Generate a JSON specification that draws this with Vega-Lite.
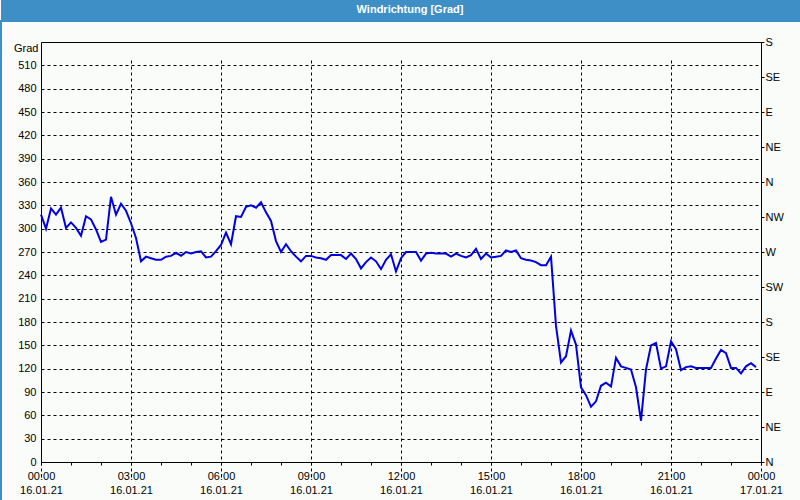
{
  "$schema": "https://vega.github.io/schema/vega-lite/v6.json",
  "padding": 0,
  "background": "#fafcfa",
  "spacing": 0,
  "config": {
    "font": "Liberation Sans",
    "concat": {"spacing": 0},
    "axis": {"labelFont": "Liberation Sans", "labelFontSize": 11, "labelColor": "black", "tickColor": "black", "domainColor": "black", "titleFont": "Liberation Sans"}
  },
  "vconcat": [
    {
      "width": 800,
      "height": 20,
      "view": {"fill": "#3d8fc6", "stroke": null},
      "data": {"values": [{"title": "Windrichtung [Grad]"}]},
      "mark": {"type": "text", "color": "white", "fontWeight": "bold", "fontSize": 11, "font": "Liberation Sans", "dx": 9},
      "encoding": {"text": {"field": "title"}}
    },
    {
      "width": 800,
      "height": 480,
      "view": {"stroke": "#3d8fc6", "strokeWidth": 2},
      "data": {"values": [
        {"time": "2021-01-16T00:00", "dir": 318}, {"time": "2021-01-16T00:10", "dir": 300}, {"time": "2021-01-16T00:20", "dir": 326}, {"time": "2021-01-16T00:30", "dir": 318},
        {"time": "2021-01-16T00:40", "dir": 327}, {"time": "2021-01-16T00:50", "dir": 301}, {"time": "2021-01-16T01:00", "dir": 308}, {"time": "2021-01-16T01:10", "dir": 301},
        {"time": "2021-01-16T01:20", "dir": 291}, {"time": "2021-01-16T01:30", "dir": 316}, {"time": "2021-01-16T01:40", "dir": 312}, {"time": "2021-01-16T01:50", "dir": 299},
        {"time": "2021-01-16T02:00", "dir": 283}, {"time": "2021-01-16T02:10", "dir": 286}, {"time": "2021-01-16T02:20", "dir": 341}, {"time": "2021-01-16T02:30", "dir": 318},
        {"time": "2021-01-16T02:40", "dir": 332}, {"time": "2021-01-16T02:50", "dir": 323}, {"time": "2021-01-16T03:00", "dir": 307}, {"time": "2021-01-16T03:10", "dir": 288},
        {"time": "2021-01-16T03:20", "dir": 258}, {"time": "2021-01-16T03:30", "dir": 264}, {"time": "2021-01-16T03:40", "dir": 262}, {"time": "2021-01-16T03:50", "dir": 260},
        {"time": "2021-01-16T04:00", "dir": 260}, {"time": "2021-01-16T04:10", "dir": 264}, {"time": "2021-01-16T04:20", "dir": 265}, {"time": "2021-01-16T04:30", "dir": 269},
        {"time": "2021-01-16T04:40", "dir": 265}, {"time": "2021-01-16T04:50", "dir": 270}, {"time": "2021-01-16T05:00", "dir": 268}, {"time": "2021-01-16T05:10", "dir": 270},
        {"time": "2021-01-16T05:20", "dir": 271}, {"time": "2021-01-16T05:30", "dir": 263}, {"time": "2021-01-16T05:40", "dir": 264}, {"time": "2021-01-16T05:50", "dir": 271},
        {"time": "2021-01-16T06:00", "dir": 279}, {"time": "2021-01-16T06:10", "dir": 295}, {"time": "2021-01-16T06:20", "dir": 280}, {"time": "2021-01-16T06:30", "dir": 316},
        {"time": "2021-01-16T06:40", "dir": 315}, {"time": "2021-01-16T06:50", "dir": 328}, {"time": "2021-01-16T07:00", "dir": 330}, {"time": "2021-01-16T07:10", "dir": 327},
        {"time": "2021-01-16T07:20", "dir": 334}, {"time": "2021-01-16T07:30", "dir": 321}, {"time": "2021-01-16T07:40", "dir": 310}, {"time": "2021-01-16T07:50", "dir": 284},
        {"time": "2021-01-16T08:00", "dir": 270}, {"time": "2021-01-16T08:10", "dir": 280}, {"time": "2021-01-16T08:20", "dir": 271}, {"time": "2021-01-16T08:30", "dir": 264},
        {"time": "2021-01-16T08:40", "dir": 258}, {"time": "2021-01-16T08:50", "dir": 265}, {"time": "2021-01-16T09:00", "dir": 265}, {"time": "2021-01-16T09:10", "dir": 263},
        {"time": "2021-01-16T09:20", "dir": 262}, {"time": "2021-01-16T09:30", "dir": 260}, {"time": "2021-01-16T09:40", "dir": 266}, {"time": "2021-01-16T09:50", "dir": 266},
        {"time": "2021-01-16T10:00", "dir": 266}, {"time": "2021-01-16T10:10", "dir": 261}, {"time": "2021-01-16T10:20", "dir": 268}, {"time": "2021-01-16T10:30", "dir": 261},
        {"time": "2021-01-16T10:40", "dir": 249}, {"time": "2021-01-16T10:50", "dir": 257}, {"time": "2021-01-16T11:00", "dir": 263}, {"time": "2021-01-16T11:10", "dir": 258},
        {"time": "2021-01-16T11:20", "dir": 248}, {"time": "2021-01-16T11:30", "dir": 260}, {"time": "2021-01-16T11:40", "dir": 267}, {"time": "2021-01-16T11:50", "dir": 245},
        {"time": "2021-01-16T12:00", "dir": 262}, {"time": "2021-01-16T12:10", "dir": 270}, {"time": "2021-01-16T12:20", "dir": 270}, {"time": "2021-01-16T12:30", "dir": 270},
        {"time": "2021-01-16T12:40", "dir": 259}, {"time": "2021-01-16T12:50", "dir": 268}, {"time": "2021-01-16T13:00", "dir": 269}, {"time": "2021-01-16T13:10", "dir": 268},
        {"time": "2021-01-16T13:20", "dir": 268}, {"time": "2021-01-16T13:30", "dir": 268}, {"time": "2021-01-16T13:40", "dir": 264}, {"time": "2021-01-16T13:50", "dir": 268},
        {"time": "2021-01-16T14:00", "dir": 265}, {"time": "2021-01-16T14:10", "dir": 263}, {"time": "2021-01-16T14:20", "dir": 266}, {"time": "2021-01-16T14:30", "dir": 274},
        {"time": "2021-01-16T14:40", "dir": 261}, {"time": "2021-01-16T14:50", "dir": 268}, {"time": "2021-01-16T15:00", "dir": 263}, {"time": "2021-01-16T15:10", "dir": 264},
        {"time": "2021-01-16T15:20", "dir": 265}, {"time": "2021-01-16T15:30", "dir": 272}, {"time": "2021-01-16T15:40", "dir": 270}, {"time": "2021-01-16T15:50", "dir": 272},
        {"time": "2021-01-16T16:00", "dir": 262}, {"time": "2021-01-16T16:10", "dir": 260}, {"time": "2021-01-16T16:20", "dir": 259}, {"time": "2021-01-16T16:30", "dir": 257},
        {"time": "2021-01-16T16:40", "dir": 253}, {"time": "2021-01-16T16:50", "dir": 253}, {"time": "2021-01-16T17:00", "dir": 264}, {"time": "2021-01-16T17:10", "dir": 175},
        {"time": "2021-01-16T17:20", "dir": 128}, {"time": "2021-01-16T17:30", "dir": 136}, {"time": "2021-01-16T17:40", "dir": 169}, {"time": "2021-01-16T17:50", "dir": 151},
        {"time": "2021-01-16T18:00", "dir": 96}, {"time": "2021-01-16T18:10", "dir": 86}, {"time": "2021-01-16T18:20", "dir": 71}, {"time": "2021-01-16T18:30", "dir": 78},
        {"time": "2021-01-16T18:40", "dir": 98}, {"time": "2021-01-16T18:50", "dir": 102}, {"time": "2021-01-16T19:00", "dir": 97}, {"time": "2021-01-16T19:10", "dir": 134},
        {"time": "2021-01-16T19:20", "dir": 123}, {"time": "2021-01-16T19:30", "dir": 121}, {"time": "2021-01-16T19:40", "dir": 119}, {"time": "2021-01-16T19:50", "dir": 96},
        {"time": "2021-01-16T20:00", "dir": 53}, {"time": "2021-01-16T20:10", "dir": 119}, {"time": "2021-01-16T20:20", "dir": 150}, {"time": "2021-01-16T20:30", "dir": 153},
        {"time": "2021-01-16T20:40", "dir": 120}, {"time": "2021-01-16T20:50", "dir": 123}, {"time": "2021-01-16T21:00", "dir": 155}, {"time": "2021-01-16T21:10", "dir": 145},
        {"time": "2021-01-16T21:20", "dir": 118}, {"time": "2021-01-16T21:30", "dir": 122}, {"time": "2021-01-16T21:40", "dir": 123}, {"time": "2021-01-16T21:50", "dir": 121},
        {"time": "2021-01-16T22:00", "dir": 121}, {"time": "2021-01-16T22:10", "dir": 121}, {"time": "2021-01-16T22:20", "dir": 121}, {"time": "2021-01-16T22:30", "dir": 133},
        {"time": "2021-01-16T22:40", "dir": 144}, {"time": "2021-01-16T22:50", "dir": 140}, {"time": "2021-01-16T23:00", "dir": 121}, {"time": "2021-01-16T23:10", "dir": 121},
        {"time": "2021-01-16T23:20", "dir": 114}, {"time": "2021-01-16T23:30", "dir": 123}, {"time": "2021-01-16T23:40", "dir": 127}, {"time": "2021-01-16T23:50", "dir": 122}
      ]},
      "layer": [
        {
          "mark": {"type": "line", "strokeOpacity": 0},
          "encoding": {
            "x": {
              "field": "time", "type": "temporal",
              "scale": {"domain": [{"year": 2021, "month": 1, "date": 16, "hours": 0}, {"year": 2021, "month": 1, "date": 17, "hours": 0}], "range": [40, 760]},
              "axis": {"orient": "top", "offset": -21, "labels": false, "ticks": false, "grid": false, "domain": true, "title": null}
            },
            "y": {
              "field": "dir", "type": "quantitative",
              "scale": {"domain": [0, 540], "range": [441, 21], "nice": false, "zero": false},
              "axis": {
                "orient": "right", "offset": -40,
                "values": [0, 45, 90, 135, 180, 225, 270, 315, 360, 405, 450, 495, 540],
                "labelExpr": "datum.value % 360 === 0 ? 'N' : datum.value % 360 === 45 ? 'NE' : datum.value % 360 === 90 ? 'E' : datum.value % 360 === 135 ? 'SE' : datum.value % 360 === 180 ? 'S' : datum.value % 360 === 225 ? 'SW' : datum.value % 360 === 270 ? 'W' : 'NW'",
                "tickSize": 3, "labelPadding": 1, "labelOverlap": false, "labelFlush": false,
                "grid": false, "title": null
              }
            }
          }
        },
        {
          "mark": {"type": "line", "strokeOpacity": 0},
          "encoding": {
            "x": {
              "field": "time", "type": "temporal",
              "scale": {"domain": [{"year": 2021, "month": 1, "date": 16, "hours": 0}, {"year": 2021, "month": 1, "date": 17, "hours": 0}], "range": [40, 760]},
              "axis": {"orient": "bottom", "offset": -39, "tickCount": 24, "labels": false, "ticks": true, "tickSize": 3, "grid": false, "domain": true, "title": null}
            },
            "y": {"field": "dir", "type": "quantitative", "axis": null}
          }
        },
        {
          "mark": {"type": "line", "strokeOpacity": 0},
          "encoding": {
            "x": {
              "field": "time", "type": "temporal",
              "scale": {"domain": [{"year": 2021, "month": 1, "date": 16, "hours": 0}, {"year": 2021, "month": 1, "date": 17, "hours": 0}], "range": [40, 760]},
              "axis": {"orient": "bottom", "offset": -39, "tickCount": 8, "format": "%d.%m.%y", "labels": true, "ticks": false, "grid": false, "domain": false,
                       "labelPadding": 22, "labelFlush": false, "labelOverlap": false, "title": null}
            },
            "y": {"field": "dir", "type": "quantitative", "axis": null}
          }
        },
        {
          "mark": {"type": "line", "color": "#0000e0", "strokeWidth": 2},
          "encoding": {
            "x": {
              "field": "time", "type": "temporal",
              "scale": {"domain": [{"year": 2021, "month": 1, "date": 16, "hours": 0}, {"year": 2021, "month": 1, "date": 17, "hours": 0}], "range": [40, 760]},
              "axis": {
                "orient": "bottom", "offset": -39, "tickCount": 8, "format": "%H:%M",
                "labelPadding": 8, "labelFlush": false, "labelOverlap": false, "ticks": false, "domain": false,
                "grid": true, "gridColor": "black", "gridDash": [3, 3], "gridOpacity": 1,
                "title": null
              }
            },
            "y": {
              "field": "dir", "type": "quantitative",
              "scale": {"domain": [0, 540], "range": [441, 21], "nice": false, "zero": false},
              "axis": {
                "orient": "left", "offset": -40,
                "values": [0, 30, 60, 90, 120, 150, 180, 210, 240, 270, 300, 330, 360, 390, 420, 450, 480, 510],
                "ticks": false, "labelPadding": 5, "labelOverlap": false, "labelFlush": false,
                "grid": true, "gridColor": "black", "gridDash": [3, 3], "gridOpacity": 1,
                "title": "Grad", "titleAngle": 0, "titleAlign": "right", "titleBaseline": "middle",
                "titleX": -3, "titleY": 27, "titleFontSize": 11, "titleFontWeight": "normal", "titleColor": "black"
              }
            }
          }
        }
      ],
      "resolve": {"axis": {"x": "independent", "y": "independent"}}
    }
  ]
}
